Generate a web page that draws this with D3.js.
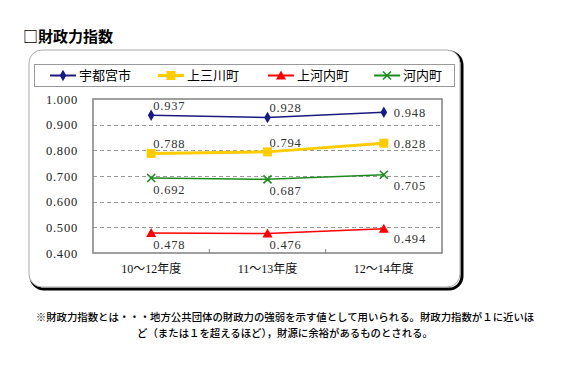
<!DOCTYPE html>
<html>
<head>
<meta charset="utf-8">
<script src="https://cdn.jsdelivr.net/npm/d3@7"></script>
<style>
  body { margin: 0; background: #fff; }
  svg { display: block; }
</style>
</head>
<body>
<div id="chart"></div>
<script>
// Data
const categories = ["10～12年度", "11～13年度", "12～14年度"];
const seriesNames = ["宇都宮市", "上三川町", "上河内町", "河内町"];
const utsunomiya = [0.937, 0.928, 0.948];
const kaminokawa = [0.788, 0.794, 0.828];
const kamikawachi = [0.478, 0.476, 0.494];
const kawachi = [0.692, 0.687, 0.705];
const yTicks = [0.4, 0.5, 0.6, 0.7, 0.8, 0.9, 1.0];

const width = 580, height = 370;
const plot = { left: 93, top: 99, right: 442, bottom: 253 };

const svg = d3.select("#chart").append("svg")
    .attr("width", width)
    .attr("height", height);

const cjk = "'Noto Sans CJK JP', sans-serif";
const serif = "'Liberation Serif', 'Noto Sans CJK JP', serif";

// Title
svg.append("text")
    .attr("x", 23).attr("y", 42)
    .style("font-family", cjk)
    .style("font-size", "15px")
    .style("font-weight", "bold")
    .text("□財政力指数");

// Outer rounded frame with dark shadow edge
svg.append("rect")
    .attr("x", 31).attr("y", 52).attr("width", 431).attr("height", 237)
    .attr("rx", 13)
    .attr("fill", "none").attr("stroke", "#000").attr("stroke-width", 3);
svg.append("rect")
    .attr("x", 29).attr("y", 50).attr("width", 431).attr("height", 237)
    .attr("rx", 13)
    .attr("fill", "#fff").attr("stroke", "#aaa").attr("stroke-width", 1);

// Legend box
svg.append("rect")
    .attr("x", 34.5).attr("y", 64.5).attr("width", 420).attr("height", 22)
    .attr("fill", "#fff").attr("stroke", "#999").attr("stroke-width", 1);

const series = [
    { name: seriesNames[0], values: utsunomiya, color: "#1a1a80", width: 1.5, marker: "diamond", pos: "above", lastDy: 0 },
    { name: seriesNames[1], values: kaminokawa, color: "#ffcc00", width: 3, marker: "square", pos: "above", lastDy: 0 },
    { name: seriesNames[2], values: kamikawachi, color: "#ff0000", width: 1.5, marker: "triangle", pos: "below", lastDy: 9 },
    { name: seriesNames[3], values: kawachi, color: "#1f8a1f", width: 1.5, marker: "x", pos: "below", lastDy: 10 }
];

const x = d3.scaleBand().domain(categories).range([plot.left, plot.right]);
const y = d3.scaleLinear().domain([0.4, 1.0]).range([plot.bottom, plot.top]);

function drawMarker(g, type, cx, cy, color) {
    if (type === "diamond") {
        g.append("path")
            .attr("d", d3.symbol(d3.symbolDiamond, 38)())
            .attr("transform", `translate(${cx},${cy})`)
            .attr("fill", color);
    } else if (type === "square") {
        g.append("rect")
            .attr("x", cx - 4.5).attr("y", cy - 4.5).attr("width", 9).attr("height", 9)
            .attr("fill", color);
    } else if (type === "triangle") {
        g.append("path")
            .attr("d", `M${cx},${cy - 5}L${cx + 5},${cy + 4}L${cx - 5},${cy + 4}Z`)
            .attr("fill", color);
    } else {
        g.append("path")
            .attr("d", `M${cx - 4},${cy - 4}L${cx + 4},${cy + 4}M${cx - 4},${cy + 4}L${cx + 4},${cy - 4}`)
            .attr("stroke", color).attr("stroke-width", 1.6).attr("fill", "none");
    }
}

// Legend entries
const legendX = [50, 158, 268, 374];
series.forEach((s, i) => {
    const g = svg.append("g");
    g.append("line")
        .attr("x1", legendX[i]).attr("x2", legendX[i] + 26)
        .attr("y1", 75.5).attr("y2", 75.5)
        .attr("stroke", s.color).attr("stroke-width", s.width === 3 ? 3 : 2);
    drawMarker(g, s.marker, legendX[i] + 13, 75.5, s.color);
    g.append("text")
        .attr("x", legendX[i] + 29).attr("y", 80)
        .style("font-family", cjk)
        .style("font-size", "13px")
        .text(s.name);
});

// Gridlines
svg.append("g").selectAll("line")
    .data(yTicks.slice(1, -1))
    .join("line")
    .attr("x1", plot.left).attr("x2", plot.right)
    .attr("y1", d => Math.round(y(d)) + 0.5).attr("y2", d => Math.round(y(d)) + 0.5)
    .attr("stroke", "#999").attr("stroke-dasharray", "4,3");

// Plot border
svg.append("rect")
    .attr("x", plot.left).attr("y", plot.top)
    .attr("width", plot.right - plot.left).attr("height", plot.bottom - plot.top)
    .attr("fill", "none").attr("stroke", "#808080").attr("stroke-width", 1.5);

// Y axis labels
svg.append("g").selectAll("text")
    .data(yTicks)
    .join("text")
    .attr("x", 78).attr("y", d => y(d) + 4.5)
    .attr("text-anchor", "end")
    .style("font-family", serif)
    .style("font-size", "12.5px")
    .style("letter-spacing", "0.8px")
    .style("fill", "#222")
    .text(d3.format(".3f"));

// X tick marks between categories
svg.append("g").selectAll("line")
    .data(categories.slice(1))
    .join("line")
    .attr("x1", d => x(d)).attr("x2", d => x(d))
    .attr("y1", plot.bottom).attr("y2", plot.bottom - 4)
    .attr("stroke", "#808080");

// X category labels
svg.append("g").selectAll("text")
    .data(categories)
    .join("text")
    .attr("x", d => x(d) + x.bandwidth() / 2)
    .attr("y", 273)
    .attr("text-anchor", "middle")
    .style("font-family", serif)
    .style("font-size", "12px")
    .style("fill", "#111")
    .text(d => d);

// Lines, markers, labels
const line = d3.line()
    .x((d, i) => x(categories[i]) + x.bandwidth() / 2)
    .y(d => y(d));

series.forEach(s => {
    const g = svg.append("g");
    g.append("path")
        .datum(s.values)
        .attr("d", line)
        .attr("fill", "none")
        .attr("stroke", s.color)
        .attr("stroke-width", s.width);
    s.values.forEach((v, i) => {
        const cx = x(categories[i]) + x.bandwidth() / 2;
        const cy = y(v);
        drawMarker(g, s.marker, cx, cy, s.color);
        const last = i === s.values.length - 1;
        g.append("text")
            .attr("x", last ? cx + 10 : cx + 2)
            .attr("y", last ? cy + 5 + s.lastDy : (s.pos === "above" ? cy - 5 : cy + 16))
            .style("font-family", serif)
            .style("font-size", "12.5px")
            .style("letter-spacing", "0.8px")
            .style("fill", "#333")
            .text(d3.format(".3f")(v));
    });
});

// Footnote
const notes = [
    "※財政力指数とは・・・地方公共団体の財政力の強弱を示す値として用いられる。財政力指数が１に近いほ",
    "ど（または１を超えるほど），財源に余裕があるものとされる。"
];
svg.append("g").selectAll("text")
    .data(notes)
    .join("text")
    .attr("x", 285)
    .attr("y", (d, i) => 321 + i * 16)
    .attr("text-anchor", "middle")
    .style("font-family", cjk)
    .style("font-size", "10.4px")
    .style("font-weight", "500")
    .text(d => d);
</script>
</body>
</html>
